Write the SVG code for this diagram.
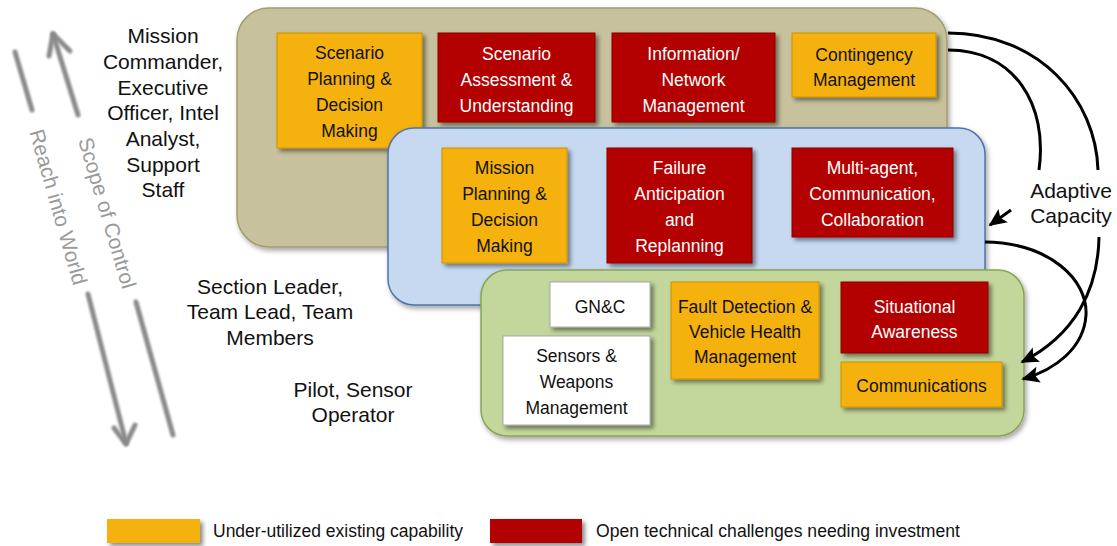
<svg xmlns="http://www.w3.org/2000/svg" width="1117" height="546" viewBox="0 0 1117 546">
<defs>
<filter id="sh" x="-10%" y="-10%" width="125%" height="130%">
<feDropShadow dx="3" dy="3" stdDeviation="2.2" flood-color="#000" flood-opacity="0.45"/>
</filter>
<filter id="shc" x="-5%" y="-5%" width="112%" height="115%">
<feDropShadow dx="2" dy="3" stdDeviation="2.5" flood-color="#000" flood-opacity="0.35"/>
</filter>
<filter id="blur" x="-20%" y="-20%" width="140%" height="140%">
<feGaussianBlur stdDeviation="0.8"/>
</filter>
<marker id="ah" viewBox="0 0 10 10" refX="9" refY="5" markerWidth="6" markerHeight="6" orient="auto" markerUnits="strokeWidth">
<path d="M0,0.5 L10,5 L0,9.5 L2,5 Z" fill="#000"/>
</marker>
<style>
.t{font-family:"Liberation Sans",Arial,sans-serif;text-anchor:middle}
.bx{font-size:17.5px}
.lb{font-size:21px;fill:#111}
.or{fill:#f5b10c;stroke:#c99300;stroke-width:1;filter:url(#sh)}
.rd{fill:#b30000;stroke:#8a0000;stroke-width:1;filter:url(#sh)}
.wh{fill:#fff;stroke:#a8a8a8;stroke-width:1;filter:url(#sh)}
.tw{fill:#fff}
.tb{fill:#111}
.gl{stroke:#8a8a8a;stroke-width:5;stroke-linecap:round;stroke-linejoin:round;fill:none;filter:url(#blur)}
.gt{font-size:21px;fill:#9a9a9a}
.cn{stroke:#000;stroke-width:3;fill:none}
</style>
</defs>
<rect width="1117" height="546" fill="#fff"/>

<!-- left axis arrows -->
<g id="axis-reach">
<line class="gl" x1="15" y1="52" x2="32" y2="110"/>
<line class="gl" x1="88" y1="294" x2="126" y2="443"/>
<polyline class="gl" points="114,428 126,444 135,425"/>
<text class="t gt" font-family="Liberation Sans, Arial, sans-serif" transform="translate(58,207) rotate(74)" x="0" y="7">Reach into World</text>
</g>
<g id="axis-scope">
<line class="gl" x1="53" y1="34" x2="78" y2="115"/>
<line class="gl" x1="136" y1="302" x2="173" y2="435"/>
<polyline class="gl" points="49,56 53,34 70,51"/>
<text class="t gt" font-family="Liberation Sans, Arial, sans-serif" transform="translate(107,213) rotate(73.5)" x="0" y="7">Scope of Control</text>
</g>

<!-- role labels -->
<g id="label-mission" class="t lb">
<text x="163" y="43">Mission</text>
<text x="163" y="69">Commander,</text>
<text x="163" y="95">Executive</text>
<text x="163" y="120">Officer, Intel</text>
<text x="163" y="146">Analyst,</text>
<text x="163" y="172">Support</text>
<text x="163" y="197">Staff</text>
</g>
<g id="label-section" class="t lb">
<text x="270" y="294">Section Leader,</text>
<text x="270" y="319">Team Lead, Team</text>
<text x="270" y="345">Members</text>
</g>
<g id="label-pilot" class="t lb">
<text x="353" y="397">Pilot, Sensor</text>
<text x="353" y="422">Operator</text>
</g>

<!-- tan level -->
<g id="level-mission">
<rect x="237" y="8" width="710" height="239" rx="32" fill="#c7c29d" stroke="#a39d6b" stroke-width="1.5" filter="url(#shc)"/>
</g>
<g id="n-scenario-planning">
<rect class="or" x="277" y="33" width="145" height="115"/>
<g class="t bx tb"><text x="349.5" y="59">Scenario</text><text x="349.5" y="85">Planning &amp;</text><text x="349.5" y="111">Decision</text><text x="349.5" y="137">Making</text></g>
</g>
<g id="n-scenario-assessment">
<rect class="rd" x="438" y="33" width="157" height="89"/>
<g class="t bx tw"><text x="516.5" y="60">Scenario</text><text x="516.5" y="86">Assessment &amp;</text><text x="516.5" y="112">Understanding</text></g>
</g>
<g id="n-information-network">
<rect class="rd" x="612" y="33" width="163" height="89"/>
<g class="t bx tw"><text x="693.5" y="60">Information/</text><text x="693.5" y="86">Network</text><text x="693.5" y="112">Management</text></g>
</g>
<g id="n-contingency">
<rect class="or" x="792" y="33" width="144" height="64"/>
<g class="t bx tb"><text x="864" y="61">Contingency</text><text x="864" y="86">Management</text></g>
</g>

<!-- blue level -->
<g id="level-section">
<rect x="388" y="128" width="597" height="177" rx="26" fill="#c6d9f1" stroke="#4f74a8" stroke-width="1.5" filter="url(#shc)"/>
</g>
<g id="n-mission-planning">
<rect class="or" x="442" y="148" width="125" height="115"/>
<g class="t bx tb"><text x="504.5" y="174">Mission</text><text x="504.5" y="200">Planning &amp;</text><text x="504.5" y="226">Decision</text><text x="504.5" y="252">Making</text></g>
</g>
<g id="n-failure-anticipation">
<rect class="rd" x="607" y="148" width="145" height="115"/>
<g class="t bx tw"><text x="679.5" y="174">Failure</text><text x="679.5" y="200">Anticipation</text><text x="679.5" y="226">and</text><text x="679.5" y="252">Replanning</text></g>
</g>
<g id="n-multi-agent">
<rect class="rd" x="792" y="148" width="161" height="89"/>
<g class="t bx tw"><text x="872.5" y="174">Multi-agent,</text><text x="872.5" y="200">Communication,</text><text x="872.5" y="226">Collaboration</text></g>
</g>

<!-- green level -->
<g id="level-pilot">
<rect x="481" y="270" width="543" height="166" rx="26" fill="#c3d69b" stroke="#86a656" stroke-width="1.5" filter="url(#shc)"/>
</g>
<g id="n-gnc">
<rect class="wh" x="550" y="282" width="100" height="45"/>
<text class="t bx tb" x="600" y="313">GN&amp;C</text>
</g>
<g id="n-sensors-weapons">
<rect class="wh" x="503" y="336" width="147" height="89"/>
<g class="t bx tb"><text x="576.5" y="362">Sensors &amp;</text><text x="576.5" y="388">Weapons</text><text x="576.5" y="414">Management</text></g>
</g>
<g id="n-fault-detection">
<rect class="or" x="671" y="282" width="148" height="97"/>
<g class="t bx tb"><text x="745" y="313">Fault Detection &amp;</text><text x="745" y="338">Vehicle Health</text><text x="745" y="363">Management</text></g>
</g>
<g id="n-situational">
<rect class="rd" x="841" y="282" width="147" height="71"/>
<g class="t bx tw"><text x="914.5" y="313">Situational</text><text x="914.5" y="338">Awareness</text></g>
</g>
<g id="n-communications">
<rect class="or" x="841" y="362" width="161" height="45"/>
<text class="t bx tb" x="921.5" y="392">Communications</text>
</g>

<!-- adaptive capacity connectors -->
<g id="connectors">
<path class="cn" d="M948,33 C1040,33 1096,100 1098,170"/>
<path class="cn" d="M1099,237 C1098,290 1075,335 1022,362" marker-end="url(#ah)"/>
<path class="cn" d="M948,50 C1015,50 1048,105 1039,170"/>
<path class="cn" d="M1011,210 L990,225" marker-end="url(#ah)"/>
<path class="cn" d="M985,242 C1050,243 1088,280 1086,315 C1084,348 1055,370 1023,379" marker-end="url(#ah)"/>
</g>
<g id="label-adaptive" class="t lb">
<text x="1071" y="198">Adaptive</text>
<text x="1071" y="223">Capacity</text>
</g>

<!-- legend -->
<g id="legend">
<rect x="107" y="519" width="93" height="24" fill="#f5b10c" filter="url(#sh)"/>
<text x="213" y="537" font-family="Liberation Sans, Arial, sans-serif" font-size="17.5" fill="#111" textLength="250" lengthAdjust="spacingAndGlyphs">Under-utilized existing capability</text>
<rect x="490" y="519" width="92" height="24" fill="#b30000" filter="url(#sh)"/>
<text x="596" y="537" font-family="Liberation Sans, Arial, sans-serif" font-size="17.5" fill="#111" textLength="364" lengthAdjust="spacingAndGlyphs">Open technical challenges needing investment</text>
</g>
</svg>
